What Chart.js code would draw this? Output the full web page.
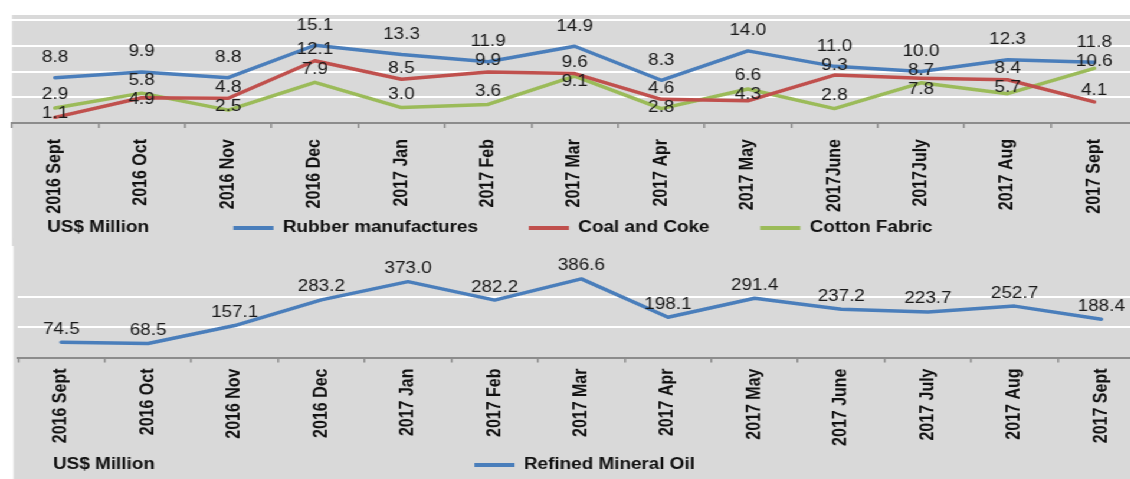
<!DOCTYPE html>
<html>
<head>
<meta charset="utf-8">
<script src="https://cdn.jsdelivr.net/npm/chart.js@4"></script>
<style>
  html, body { margin:0; padding:0; background:#ffffff; overflow:hidden; width:1130px; height:479px; }
  #stretch { position:absolute; left:0; top:0; width:1000px; height:490px; transform:scaleX(1.18); transform-origin:0 0; }
  #topBox { position:absolute; left:0; top:0; }
  #botBox { position:absolute; left:0; top:238px; }
  canvas { display:block; }
</style>
</head>
<body>
<div id="stretch">
  <div id="topBox"><canvas id="topChart" width="988" height="246"></canvas></div>
  <div id="botBox"><canvas id="botChart" width="991" height="245"></canvas></div>
</div>
<script>
// ---- data ----
const categoriesTop = ['2016 Sept','2016 Oct','2016 Nov','2016 Dec','2017 Jan','2017 Feb','2017 Mar','2017 Apr','2017 May','2017June','2017July','2017 Aug','2017 Sept'];
const categoriesBottom = ['2016 Sept','2016 Oct','2016 Nov','2016 Dec','2017 Jan','2017 Feb','2017 Mar','2017 Apr','2017 May','2017 June','2017 July','2017 Aug','2017 Sept'];
const rubberManufactures = [8.8, 9.9, 8.8, 15.1, 13.3, 11.9, 14.9, 8.3, 14.0, 11.0, 10.0, 12.3, 11.8];
const coalAndCoke = [1.1, 4.9, 4.8, 12.1, 8.5, 9.9, 9.6, 4.6, 4.3, 9.3, 8.7, 8.4, 4.1];
const cottonFabric = [2.9, 5.8, 2.5, 7.9, 3.0, 3.6, 9.1, 2.8, 6.6, 2.8, 7.8, 5.7, 10.6];
const refinedMineralOil = [74.5, 68.5, 157.1, 283.2, 373.0, 282.2, 386.6, 198.1, 291.4, 237.2, 223.7, 252.7, 188.4];
const topYTicks = [0, 5, 10, 15, 20];
const bottomYTicks = [0, 150, 300, 450];
const unitLabel = 'US$ Million';

// ---- styling ----
const FONT = '"Liberation Sans", Arial, Helvetica, sans-serif';
const BLUE = '#4a7ebb', RED = '#c0504d', GREEN = '#9bbb59';
const PANEL = '#d9d9d9';

const panelPlugin = {
  id: 'panel',
  beforeDraw(chart, args, opts) {
    const c = chart.ctx;
    c.save();
    c.fillStyle = PANEL;
    c.fillRect(opts.left, opts.top, chart.width - opts.left, chart.height - opts.top);
    c.restore();
  }
};

// value labels above each point; labels in one column are kept apart
const valueLabels = {
  id: 'valueLabels',
  afterDatasetsDraw(chart) {
    const c = chart.ctx;
    const GAP = 19;
    c.save();
    c.font = '16px ' + FONT;
    c.fillStyle = '#1a1a1a';
    c.textAlign = 'center';
    c.textBaseline = 'middle';
    const n = chart.data.labels.length;
    for (let j = 0; j < n; j++) {
      const items = [];
      chart.data.datasets.forEach((ds, i) => {
        const pt = chart.getDatasetMeta(i).data[j];
        if (pt) items.push({ x: pt.x, y: pt.y - ds.labelOffset, t: ds.data[j].toFixed(1) });
      });
      items.sort((a, b) => a.y - b.y);
      for (let k = 1; k < items.length; k++) {
        if (items[k].y < items[k - 1].y + GAP) items[k].y = items[k - 1].y + GAP;
      }
      items.forEach(it => c.fillText(it.t, it.x, it.y));
    }
    c.restore();
  }
};

const unitText = {
  id: 'unitText',
  afterDraw(chart, args, opts) {
    const c = chart.ctx;
    const lg = chart.legend;
    const y = lg.top + lg.options.labels.padding + 8;
    c.save();
    c.font = 'bold 16px ' + FONT;
    c.fillStyle = '#111';
    c.textAlign = 'left';
    c.textBaseline = 'middle';
    c.fillText(unitLabel, opts.x, y);
    c.restore();
  }
};

function legendItems(chart) {
  return Chart.defaults.plugins.legend.labels.generateLabels(chart).map(l => Object.assign({}, l, {lineWidth: 0, fillStyle: l.strokeStyle}));
}

function makeOptions(cfg) {
  const minV = cfg.ticks[0], maxV = cfg.ticks[cfg.ticks.length - 1];
  return {
    responsive: false,
    animation: false,
    devicePixelRatio: 1,
    layout: { padding: { top: cfg.padTop, left: 0, right: 0, bottom: 0 } },
    elements: { point: { radius: 0 }, line: { tension: 0, borderWidth: 3.5, borderCapStyle: 'round', borderJoinStyle: 'round' } },
    plugins: {
      tooltip: { enabled: false },
      panel: { left: cfg.panelLeft, top: cfg.panelTop },
      unitText: { x: cfg.unitX },
      legend: {
        position: 'bottom',
        labels: {
          boxWidth: 34, boxHeight: 4, padding: cfg.legendPad,
          color: '#111', font: { family: FONT, size: 16, weight: 'bold' },
          generateLabels: legendItems
        }
      }
    },
    scales: {
      x: {
        offset: true,
        grid: { display: true, offset: true, drawOnChartArea: false, drawTicks: true, tickLength: 5, color: '#8c8c8c', lineWidth: 1.5 },
        border: { display: true, color: '#8c8c8c', width: 2 },
        ticks: { autoSkip: false, minRotation: 90, maxRotation: 90, padding: cfg.tickPad, color: '#111', font: { family: FONT, size: 16, weight: 'bold' } },
        afterFit: s => { s.height = cfg.xHeight; s._computeLabelArea = () => undefined; }
      },
      y: {
        min: minV, max: maxV,
        afterBuildTicks: s => { s.ticks = cfg.ticks.map(v => ({ value: v })); },
        grid: { drawTicks: false, lineWidth: 2, color: ctx => (ctx.tick && cfg.gridValues.includes(ctx.tick.value)) ? '#ffffff' : 'rgba(0,0,0,0)' },
        border: { display: false },
        ticks: { display: false },
        afterFit: s => { s.width = cfg.leftW; }
      },
      yRight: {
        type: 'linear', position: 'right', display: true,
        grid: { display: false, drawTicks: false },
        border: { display: false },
        ticks: { display: false },
        afterFit: s => { s.width = cfg.rightW; }
      }
    }
  };
}

new Chart(document.getElementById('topChart'), {
  type: 'line',
  data: {
    labels: categoriesTop,
    datasets: [
      { label: 'Rubber manufactures', data: rubberManufactures, borderColor: BLUE, backgroundColor: BLUE, labelOffset: 20 },
      { label: 'Coal and Coke', data: coalAndCoke, borderColor: RED, backgroundColor: RED, labelOffset: 11 },
      { label: 'Cotton Fabric', data: cottonFabric, borderColor: GREEN, backgroundColor: GREEN, labelOffset: 13 }
    ]
  },
  options: makeOptions({
    ticks: topYTicks, gridValues: [5, 10, 15, 20],
    padTop: 20, panelLeft: 10.2, panelTop: 15,
    leftW: 10, rightW: 24, xHeight: 54, tickPad: 11, legendPad: 43, unitX: 40
  }),
  plugins: [panelPlugin, valueLabels, unitText]
});

new Chart(document.getElementById('botChart'), {
  type: 'line',
  data: {
    labels: categoriesBottom,
    datasets: [
      { label: 'Refined Mineral Oil', data: refinedMineralOil, borderColor: BLUE, backgroundColor: BLUE, labelOffset: 13 }
    ]
  },
  options: makeOptions({
    ticks: bottomYTicks, gridValues: [150, 300],
    padTop: 28, panelLeft: 11.5, panelTop: 0,
    leftW: 15.3, rightW: 21, xHeight: 89.5, tickPad: 6, legendPad: 10, unitX: 45
  }),
  plugins: [panelPlugin, valueLabels, unitText]
});
</script>
</body>
</html>
